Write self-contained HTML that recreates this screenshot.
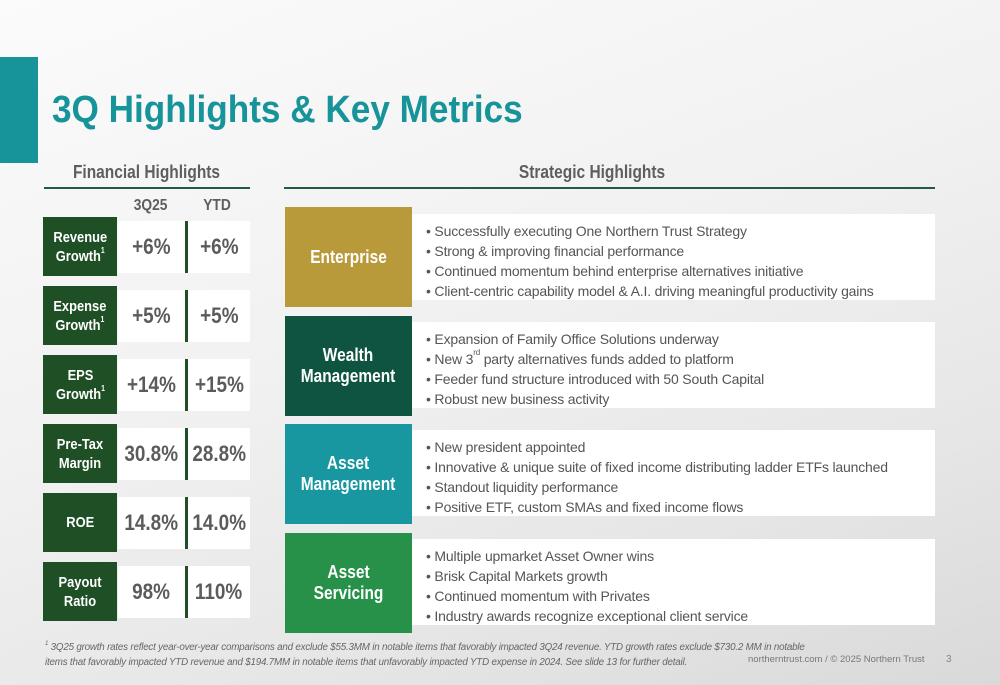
<!DOCTYPE html>
<html><head><meta charset="utf-8"><style>
body{margin:0}
#slide{position:relative;width:1000px;height:685px;overflow:hidden;font-family:"Liberation Sans",Arial,sans-serif;background:linear-gradient(160deg,#fbfbfb 0%,#f1f1f1 45%,#e6e6e6 75%,#d9d9d9 100%)}
.abs{position:absolute}
.n{display:inline-block;transform:scaleX(0.86)}
.lab{position:absolute;left:43px;width:74px;height:59px;background:#1f4f25;color:#fff;font-weight:bold;font-size:15px;display:flex;align-items:center;justify-content:center;text-align:center;line-height:19px}
.val{position:absolute;left:118px;width:132px;height:52px;background:#fff}
.v{position:absolute;top:0;width:66px;height:52px;display:flex;align-items:center;justify-content:center;font-size:22px;font-weight:bold;color:#5b5b5b}
.div{position:absolute;left:67px;top:0;width:3px;height:52px;background:#1f4f25}
.sl{position:absolute;left:285px;width:127px;height:100px;color:#fff;font-weight:bold;font-size:18px;display:flex;align-items:center;justify-content:center;text-align:center;line-height:21px}
.sb{position:absolute;left:412px;width:523px;height:86px;background:#fff;color:#555;font-size:14px;line-height:20px;padding:7px 0 0 14px;box-sizing:border-box;letter-spacing:-0.18px}
sup{font-size:8px;vertical-align:top;line-height:8px}
</style></head><body>
<div id="slide">
<div class="abs" style="left:0;top:57px;width:38px;height:106px;background:#17939a"></div>
<div class="abs" style="left:52px;top:89px;font-size:38px;font-weight:bold;color:#17939a;transform:scaleX(0.925);transform-origin:left top;white-space:nowrap">3Q Highlights &amp; Key Metrics</div>
<div class="abs" style="left:44px;width:206px;top:162px;text-align:center;font-size:18px;font-weight:bold;color:#5e5e5e"><span class="n">Financial Highlights</span></div>
<div class="abs" style="left:44px;top:187px;width:206px;height:2px;background:#1d5c45"></div>
<div class="abs" style="left:284px;width:616px;top:162px;text-align:center;font-size:18px;font-weight:bold;color:#5e5e5e"><span class="n">Strategic Highlights</span></div>
<div class="abs" style="left:284px;top:187px;width:651px;height:2px;background:#1d5c45"></div>
<div class="abs" style="left:118px;width:66px;top:197px;text-align:center;font-size:16px;font-weight:bold;color:#5e5e5e"><span class="n">3Q25</span></div>
<div class="abs" style="left:184px;width:66px;top:197px;text-align:center;font-size:16px;font-weight:bold;color:#5e5e5e"><span class="n">YTD</span></div>

<div class="lab" style="top:217px"><span class="n">Revenue<br>Growth<sup>1</sup></span></div>
<div class="val" style="top:221px"><div class="v" style="left:0"><span class="n">+6%</span></div><div class="div"></div><div class="v" style="left:68px"><span class="n">+6%</span></div></div>
<div class="lab" style="top:286px"><span class="n">Expense<br>Growth<sup>1</sup></span></div>
<div class="val" style="top:290px"><div class="v" style="left:0"><span class="n">+5%</span></div><div class="div"></div><div class="v" style="left:68px"><span class="n">+5%</span></div></div>
<div class="lab" style="top:355px"><span class="n">EPS<br>Growth<sup>1</sup></span></div>
<div class="val" style="top:359px"><div class="v" style="left:0"><span class="n">+14%</span></div><div class="div"></div><div class="v" style="left:68px"><span class="n">+15%</span></div></div>
<div class="lab" style="top:424px"><span class="n">Pre-Tax<br>Margin</span></div>
<div class="val" style="top:428px"><div class="v" style="left:0"><span class="n">30.8%</span></div><div class="div"></div><div class="v" style="left:68px"><span class="n">28.8%</span></div></div>
<div class="lab" style="top:493px"><span class="n">ROE</span></div>
<div class="val" style="top:497px"><div class="v" style="left:0"><span class="n">14.8%</span></div><div class="div"></div><div class="v" style="left:68px"><span class="n">14.0%</span></div></div>
<div class="lab" style="top:562px"><span class="n">Payout<br>Ratio</span></div>
<div class="val" style="top:566px"><div class="v" style="left:0"><span class="n">98%</span></div><div class="div"></div><div class="v" style="left:68px"><span class="n">110%</span></div></div>

<div class="sb" style="top:214px">• Successfully executing One Northern Trust Strategy<br>• Strong &amp; improving financial performance<br>• Continued momentum behind enterprise alternatives initiative<br>• Client-centric capability model &amp; A.I. driving meaningful productivity gains</div>
<div class="sl" style="top:207px;background:#b99a3b"><span class="n">Enterprise</span></div>
<div class="sb" style="top:322px">• Expansion of Family Office Solutions underway<br>• New 3<sup>rd</sup> party alternatives funds added to platform<br>• Feeder fund structure introduced with 50 South Capital<br>• Robust new business activity</div>
<div class="sl" style="top:316px;background:#0f5440"><span class="n">Wealth<br>Management</span></div>
<div class="sb" style="top:430px">• New president appointed<br>• Innovative &amp; unique suite of fixed income distributing ladder ETFs launched<br>• Standout liquidity performance<br>• Positive ETF, custom SMAs and fixed income flows</div>
<div class="sl" style="top:424px;background:#1897a0"><span class="n">Asset<br>Management</span></div>
<div class="sb" style="top:539px">• Multiple upmarket Asset Owner wins<br>• Brisk Capital Markets growth<br>• Continued momentum with Privates<br>• Industry awards recognize exceptional client service</div>
<div class="sl" style="top:533px;background:#27914a"><span class="n">Asset<br>Servicing</span></div>

<div class="abs" style="left:45px;top:640px;font-size:9.8px;font-style:italic;color:#666;line-height:15px;letter-spacing:-0.2px"><sup style="font-size:6px">1</sup> 3Q25 growth rates reflect year-over-year comparisons and exclude $55.3MM in notable items that favorably impacted 3Q24 revenue. YTD growth rates exclude $730.2 MM in notable<br>items that favorably impacted YTD revenue and $194.7MM in notable items that unfavorably impacted YTD expense in 2024. See slide 13 for further detail.</div>
<div class="abs" style="left:748px;top:654px;font-size:9.5px;color:#777">northerntrust.com / © 2025 Northern Trust</div>
<div class="abs" style="left:946px;top:654px;font-size:10px;color:#888">3</div>
</div>
</body></html>
